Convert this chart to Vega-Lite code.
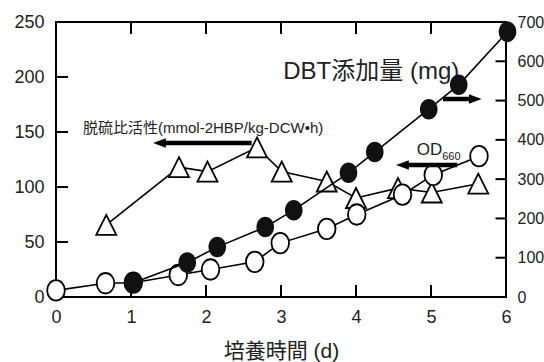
{
  "$schema": "https://vega.github.io/schema/vega-lite/v6.json",
  "width": 450,
  "height": 275,
  "autosize": "none",
  "padding": {"left": 56, "top": 22, "right": 38, "bottom": 65},
  "background": "white",
  "config": {
    "view": {"stroke": "black", "strokeWidth": 2}
  },
  "datasets": {
    "activity": [
      {"day": 0.67, "v": 65.5}, {"day": 1.64, "v": 118}, {"day": 2.02, "v": 114},
      {"day": 2.68, "v": 136}, {"day": 3.01, "v": 114}, {"day": 3.61, "v": 105},
      {"day": 4.0, "v": 90}, {"day": 4.56, "v": 99}, {"day": 5.01, "v": 95},
      {"day": 5.63, "v": 103}
    ],
    "od": [
      {"day": 0.0, "v": 6}, {"day": 0.66, "v": 12.5}, {"day": 1.03, "v": 13},
      {"day": 1.63, "v": 20}, {"day": 2.06, "v": 25}, {"day": 2.65, "v": 32},
      {"day": 2.99, "v": 49}, {"day": 3.61, "v": 62}, {"day": 4.01, "v": 75},
      {"day": 4.62, "v": 93}, {"day": 5.03, "v": 111}, {"day": 5.64, "v": 128}
    ],
    "dbt": [
      {"day": 1.03, "v": 36}, {"day": 1.75, "v": 88}, {"day": 2.15, "v": 127},
      {"day": 2.79, "v": 178}, {"day": 3.17, "v": 221}, {"day": 3.9, "v": 316},
      {"day": 4.25, "v": 369}, {"day": 4.97, "v": 478}, {"day": 5.37, "v": 540},
      {"day": 6.02, "v": 675}
    ],
    "xticks": [
      {"t": 1, "a": 0, "b": 11}, {"t": 2, "a": 0, "b": 11}, {"t": 3, "a": 0, "b": 11}, {"t": 4, "a": 0, "b": 11}, {"t": 5, "a": 0, "b": 11},
      {"t": 1, "a": 250, "b": 239}, {"t": 2, "a": 250, "b": 239}, {"t": 3, "a": 250, "b": 239}, {"t": 4, "a": 250, "b": 239}, {"t": 5, "a": 250, "b": 239}
    ],
    "lticks": [
      {"t": 50, "a": 0, "b": 0.16}, {"t": 100, "a": 0, "b": 0.16}, {"t": 150, "a": 0, "b": 0.16}, {"t": 200, "a": 0, "b": 0.16}
    ],
    "rticks": [
      {"t": 100, "a": 6, "b": 5.86}, {"t": 200, "a": 6, "b": 5.86}, {"t": 300, "a": 6, "b": 5.86},
      {"t": 400, "a": 6, "b": 5.86}, {"t": 500, "a": 6, "b": 5.86}, {"t": 600, "a": 6, "b": 5.86}
    ],
    "arrows": [
      {"x1": 1.42, "x2": 2.61, "y": 140},
      {"x1": 4.66, "x2": 5.35, "y": 120},
      {"x1": 5.16, "x2": 5.55, "y": 180}
    ],
    "headsL": [
      {"x": 1.38, "y": 140},
      {"x": 4.62, "y": 120}
    ],
    "headsR": [
      {"x": 5.59, "y": 180}
    ],
    "lblAct": [{"x": 0.36, "y": 154, "t": "脱硫比活性(mmol-2HBP/kg-DCW•h)"}],
    "lblDbt": [{"x": 3.03, "y": 204.5, "t": "DBT添加量 (mg)"}],
    "lblOd": [{"x": 4.81, "y": 133.5, "t": "OD"}],
    "lblSub": [{"x": 5.15, "y": 127, "t": "660"}]
  },
  "layer": [
    {
      "data": {"name": "xticks"},
      "mark": {"type": "rule", "color": "black", "strokeWidth": 2},
      "encoding": {
        "x": {"field": "t", "type": "quantitative", "scale": {"domain": [0, 6], "nice": false},
              "axis": {"title": "培養時間 (d)", "titleFont": "Liberation Sans, Noto Sans CJK JP", "titleFontWeight": "normal", "titleColor": "#222", "titleFontSize": 21, "titlePadding": 14,
                       "labelFont": "Liberation Sans", "labelColor": "#222", "labelFontSize": 18, "labelPadding": 11, "values": [0,1,2,3,4,5,6], "format": "d",
                       "grid": false, "domain": false, "ticks": false, "labelFlush": false, "labelOverlap": false}},
        "y": {"field": "a", "type": "quantitative", "scale": {"domain": [0, 250], "nice": false},
              "axis": {"title": null, "labelFont": "Liberation Sans", "labelColor": "#222", "labelFontSize": 18, "labelPadding": 12, "values": [0,50,100,150,200,250],
                       "grid": false, "domain": false, "ticks": false, "labelFlush": false, "labelOverlap": false}},
        "y2": {"field": "b"}
      }
    },
    {
      "data": {"name": "lticks"},
      "mark": {"type": "rule", "color": "black", "strokeWidth": 2},
      "encoding": {
        "x": {"field": "a", "type": "quantitative"},
        "x2": {"field": "b"},
        "y": {"field": "t", "type": "quantitative", "scale": {"domain": [0, 250], "nice": false}, "axis": null}
      }
    },
    {
      "data": {"name": "activity"},
      "mark": {"type": "line", "color": "black", "strokeWidth": 1.6},
      "encoding": {
        "x": {"field": "day", "type": "quantitative"},
        "y": {"field": "v", "type": "quantitative", "scale": {"domain": [0, 250], "nice": false}, "axis": null}
      }
    },
    {
      "data": {"name": "od"},
      "mark": {"type": "line", "color": "black", "strokeWidth": 1.6},
      "encoding": {
        "x": {"field": "day", "type": "quantitative"},
        "y": {"field": "v", "type": "quantitative", "scale": {"domain": [0, 250], "nice": false}, "axis": null}
      }
    },
    {
      "data": {"name": "activity"},
      "mark": {"type": "point", "shape": "M0,-1L1,1L-1,1Z", "size": 400, "filled": true, "fill": "white", "stroke": "black", "strokeWidth": 1.8, "opacity": 1},
      "encoding": {
        "x": {"field": "day", "type": "quantitative"},
        "y": {"field": "v", "type": "quantitative", "scale": {"domain": [0, 250], "nice": false}, "axis": null}
      }
    },
    {
      "data": {"name": "od"},
      "mark": {"type": "point", "shape": "M0,-1A0.86,1 0 1 1 0,1A0.86,1 0 1 1 0,-1Z", "size": 420, "filled": true, "fill": "white", "stroke": "black", "strokeWidth": 1.8, "opacity": 1},
      "encoding": {
        "x": {"field": "day", "type": "quantitative"},
        "y": {"field": "v", "type": "quantitative", "scale": {"domain": [0, 250], "nice": false}, "axis": null}
      }
    },
    {
      "data": {"name": "arrows"},
      "mark": {"type": "rule", "color": "black", "strokeWidth": 4.5},
      "encoding": {
        "x": {"field": "x1", "type": "quantitative"},
        "x2": {"field": "x2"},
        "y": {"field": "y", "type": "quantitative", "scale": {"domain": [0, 250], "nice": false}, "axis": null}
      }
    },
    {
      "data": {"name": "headsL"},
      "mark": {"type": "point", "shape": "M-1,0L1,-0.75L1,0.75Z", "filled": true, "color": "black", "size": 160, "opacity": 1, "strokeWidth": 0},
      "encoding": {
        "x": {"field": "x", "type": "quantitative"},
        "y": {"field": "y", "type": "quantitative", "scale": {"domain": [0, 250], "nice": false}, "axis": null}
      }
    },
    {
      "data": {"name": "headsR"},
      "mark": {"type": "point", "shape": "M1,0L-1,-0.75L-1,0.75Z", "filled": true, "color": "black", "size": 160, "opacity": 1, "strokeWidth": 0},
      "encoding": {
        "x": {"field": "x", "type": "quantitative"},
        "y": {"field": "y", "type": "quantitative", "scale": {"domain": [0, 250], "nice": false}, "axis": null}
      }
    },
    {
      "data": {"name": "lblAct"},
      "mark": {"type": "text", "align": "left", "baseline": "middle", "color": "#222", "fontSize": 15, "font": "Liberation Sans, Noto Sans CJK JP"},
      "encoding": {
        "x": {"field": "x", "type": "quantitative"},
        "y": {"field": "y", "type": "quantitative", "scale": {"domain": [0, 250], "nice": false}, "axis": null},
        "text": {"field": "t"}
      }
    },
    {
      "data": {"name": "lblDbt"},
      "mark": {"type": "text", "align": "left", "baseline": "middle", "color": "#222", "fontSize": 24, "font": "Liberation Sans, Noto Sans CJK JP"},
      "encoding": {
        "x": {"field": "x", "type": "quantitative"},
        "y": {"field": "y", "type": "quantitative", "scale": {"domain": [0, 250], "nice": false}, "axis": null},
        "text": {"field": "t"}
      }
    },
    {
      "data": {"name": "lblOd"},
      "mark": {"type": "text", "align": "left", "baseline": "middle", "color": "#222", "fontSize": 17, "font": "Liberation Sans"},
      "encoding": {
        "x": {"field": "x", "type": "quantitative"},
        "y": {"field": "y", "type": "quantitative", "scale": {"domain": [0, 250], "nice": false}, "axis": null},
        "text": {"field": "t"}
      }
    },
    {
      "data": {"name": "lblSub"},
      "mark": {"type": "text", "align": "left", "baseline": "middle", "color": "#222", "fontSize": 11, "font": "Liberation Sans"},
      "encoding": {
        "x": {"field": "x", "type": "quantitative"},
        "y": {"field": "y", "type": "quantitative", "scale": {"domain": [0, 250], "nice": false}, "axis": null},
        "text": {"field": "t"}
      }
    },
    {
      "data": {"name": "rticks"},
      "mark": {"type": "rule", "color": "black", "strokeWidth": 2},
      "encoding": {
        "x": {"field": "a", "type": "quantitative"},
        "x2": {"field": "b"},
        "y": {"field": "t", "type": "quantitative", "scale": {"domain": [0, 700], "nice": false},
              "axis": {"orient": "right", "title": null, "labelFont": "Liberation Sans", "labelColor": "#222", "labelFontSize": 16, "labelPadding": 11, "values": [0,100,200,300,400,500,600,700],
                       "grid": false, "domain": false, "ticks": false, "labelFlush": false, "labelOverlap": false}}
      }
    },
    {
      "data": {"name": "dbt"},
      "mark": {"type": "line", "color": "black", "strokeWidth": 1.6},
      "encoding": {
        "x": {"field": "day", "type": "quantitative"},
        "y": {"field": "v", "type": "quantitative", "scale": {"domain": [0, 700], "nice": false}, "axis": null}
      }
    },
    {
      "data": {"name": "dbt"},
      "mark": {"type": "point", "shape": "M0,-1A0.86,1 0 1 1 0,1A0.86,1 0 1 1 0,-1Z", "size": 420, "filled": true, "color": "#111", "opacity": 1},
      "encoding": {
        "x": {"field": "day", "type": "quantitative"},
        "y": {"field": "v", "type": "quantitative", "scale": {"domain": [0, 700], "nice": false}, "axis": null}
      }
    }
  ],
  "resolve": {"scale": {"y": "independent"}}
}
